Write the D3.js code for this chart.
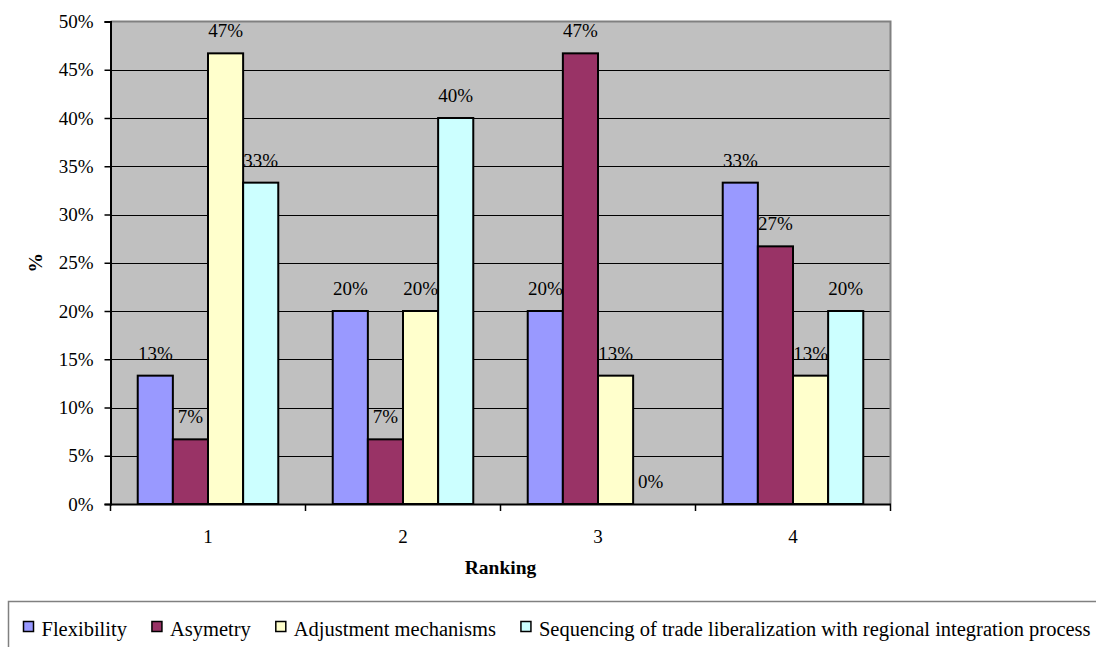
<!DOCTYPE html>
<html>
<head>
<meta charset="utf-8">
<script src="https://cdn.jsdelivr.net/npm/d3@7"></script>
<style>
  html, body { margin: 0; padding: 0; background: #fff; }
  svg { display: block; }
</style>
</head>
<body>
<svg id="chart" width="1096" height="647"></svg>
<script>
const categories = ["1", "2", "3", "4"];
const seriesNames = ["Flexibility", "Asymetry", "Adjustment mechanisms", "Sequencing of trade liberalization with regional integration process"];
const seriesColors = ["#9999FF", "#993366", "#FFFFCC", "#CCFFFF"];
const flexibility = [0.133, 0.200, 0.200, 0.333];
const asymetry = [0.067, 0.067, 0.467, 0.267];
const adjustment = [0.467, 0.200, 0.133, 0.133];
const sequencing = [0.333, 0.400, 0.000, 0.200];
const yTicks = [0, 0.05, 0.10, 0.15, 0.20, 0.25, 0.30, 0.35, 0.40, 0.45, 0.50];
const xTitle = "Ranking";
const yTitle = "%";

const seriesValues = [flexibility, asymetry, adjustment, sequencing];

const FONT = "'Liberation Serif', 'Times New Roman', Times, serif";
const FS = 19;

const svg = d3.select("#chart");
const plot = { left: 110.5, right: 890.5, top: 21.5, bottom: 504 };

function serif(sel, size) {
  return sel.attr("font-family", FONT).style("font-family", FONT)
    .attr("font-size", size).style("font-size", size + "px").attr("fill", "#000");
}

const x0 = d3.scaleBand().domain(categories).range([plot.left, plot.right]).padding(0);
const x1 = d3.scaleBand().domain(d3.range(seriesNames.length)).range([0, x0.bandwidth()])
  .paddingInner(0).paddingOuter(0.775);
const y = d3.scaleLinear().domain([0, 0.5]).range([plot.bottom, plot.top]);
const fmt = d3.format(".0%");

// plot background
svg.append("rect")
  .attr("x", plot.left).attr("y", plot.top)
  .attr("width", plot.right - plot.left).attr("height", plot.bottom - plot.top)
  .attr("fill", "#C0C0C0");

// gridlines
svg.append("g").selectAll("line").data(yTicks.filter(t => t > 0 && t < 0.5)).join("line")
  .attr("x1", plot.left).attr("x2", plot.right)
  .attr("y1", d => Math.round(y(d)) + 0.5).attr("y2", d => Math.round(y(d)) + 0.5)
  .attr("stroke", "#000").attr("stroke-width", 1);

// plot border (top & right gray)
svg.append("path")
  .attr("d", `M${plot.left},${plot.top}H${plot.right}V${plot.bottom}`)
  .attr("fill", "none").attr("stroke", "#808080").attr("stroke-width", 2);

// bars
const data = [];
categories.forEach((c, ci) => {
  seriesValues.forEach((vals, si) => data.push({ c, si, v: vals[ci] }));
});

svg.append("g").selectAll("rect").data(data).join("rect")
  .attr("x", d => x0(d.c) + x1(d.si))
  .attr("y", d => y(d.v))
  .attr("width", x1.bandwidth())
  .attr("height", d => y(0) - y(d.v))
  .attr("fill", d => seriesColors[d.si])
  .attr("stroke", "#000").attr("stroke-width", 2);

// data labels
svg.append("g").selectAll("text").data(data).join("text")
  .attr("x", d => x0(d.c) + x1(d.si) + x1.bandwidth() / 2)
  .attr("y", d => y(d.v) - 16)
  .attr("text-anchor", "middle")
  .call(serif, FS)
  .text(d => fmt(d.v));

// y axis
const yAxis = d3.axisLeft(y).tickValues(yTicks).tickFormat(fmt).tickSize(6).tickPadding(11);
const gy = svg.append("g").attr("transform", `translate(${plot.left},0)`).call(yAxis);
gy.select(".domain").attr("stroke", "#000").attr("stroke-width", 2);
gy.selectAll(".tick line").attr("stroke", "#000").attr("stroke-width", 1.5);
gy.selectAll(".tick text").call(serif, FS);

// x axis
const xAxis = d3.axisBottom(x0).tickSize(0).tickPadding(26);
const gx = svg.append("g").attr("transform", `translate(0,${plot.bottom})`).call(xAxis);
gx.select(".domain").attr("stroke", "#000").attr("stroke-width", 2);
gx.selectAll(".tick text").call(serif, FS);
// category boundary ticks
const bounds = categories.map(c => x0(c)).concat([plot.right]);
svg.append("g").selectAll("line").data(bounds).join("line")
  .attr("x1", d => d).attr("x2", d => d)
  .attr("y1", plot.bottom).attr("y2", plot.bottom + 7)
  .attr("stroke", "#000").attr("stroke-width", 1.5);

// axis titles
svg.append("text")
  .attr("x", (plot.left + plot.right) / 2).attr("y", 574)
  .attr("text-anchor", "middle").attr("font-weight", "bold")
  .call(serif, 19.5)
  .text(xTitle);
svg.append("text")
  .attr("transform", `translate(42,${(plot.top + plot.bottom) / 2}) rotate(-90)`)
  .attr("text-anchor", "middle").attr("font-weight", "bold")
  .call(serif, 19.5)
  .text(yTitle);

// legend
svg.append("rect")
  .attr("x", 8.5).attr("y", 601.5).attr("width", 1200).attr("height", 100)
  .attr("fill", "#fff").attr("stroke", "#808080").attr("stroke-width", 1.5);

const lg = svg.append("g");
let lx = 23.5;
seriesNames.forEach((name, i) => {
  lg.append("rect")
    .attr("x", lx).attr("y", 621.5).attr("width", 10).attr("height", 10)
    .attr("fill", seriesColors[i]).attr("stroke", "#000").attr("stroke-width", 1.5);
  const t = lg.append("text")
    .attr("x", lx + 18).attr("y", 635.5)
    .call(serif, 20.5)
    .text(name);
  const w = t.node().getComputedTextLength();
  lx = lx + 18 + w + 25;
});
</script>
</body>
</html>
